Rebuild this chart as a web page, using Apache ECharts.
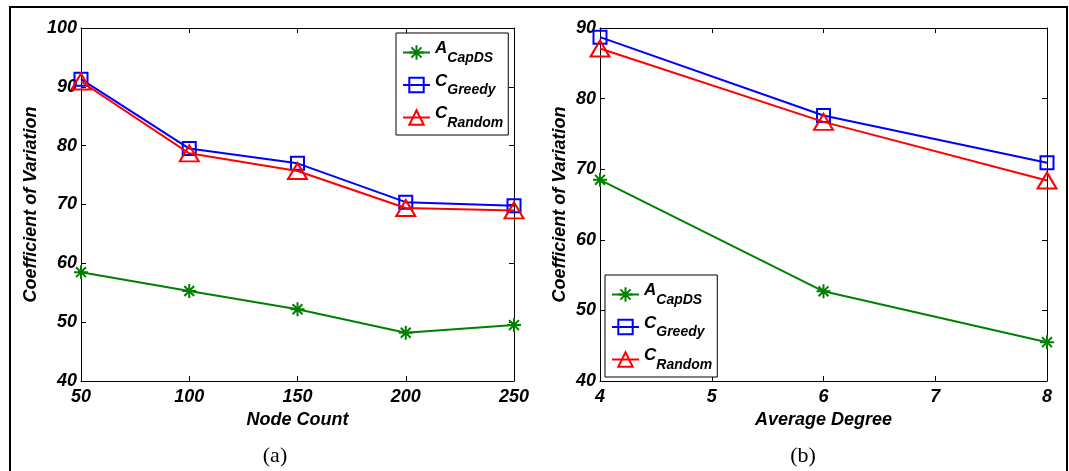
<!DOCTYPE html>
<html>
<head>
<meta charset="utf-8">
<script src="https://cdn.jsdelivr.net/npm/echarts@6/dist/echarts.min.js"></script>
<style>
  html, body { margin: 0; padding: 0; background: #fff; }
  #chart { width: 1069px; height: 471px; }
</style>
</head>
<body>
<div id="chart"></div>
<script>
// Panel (a): coefficient of variation against node count
const nodeCounts = [50, 100, 150, 200, 250];
const nodeCapDS = [58.5, 55.3, 52.2, 48.2, 49.5];
const nodeGreedy = [91.3, 79.5, 77.0, 70.4, 69.8];
const nodeRandom = [90.9, 78.7, 75.7, 69.4, 69.0];

// Panel (b): coefficient of variation against average degree
const degrees = [4, 6, 8];
const degreeCapDS = [68.5, 52.7, 45.5];
const degreeGreedy = [88.7, 77.6, 70.9];
const degreeRandom = [87.1, 76.7, 68.4];

// Axis ranges [min, max, step]
const nodeAxis = [50, 250, 50];
const degreeAxis = [4, 8, 1];
const nodeCvAxis = [40, 100, 10];
const degreeCvAxis = [40, 90, 10];

// Legend entries: main letter with subscript
const seriesMain = ['A', 'C', 'C'];
const seriesSub = ['CapDS', 'Greedy', 'Random'];
const seriesNames = seriesMain.map((m, i) => m + '_' + seriesSub[i]);

const axisTitles = ['Node Count', 'Average Degree', 'Coefficient of Variation'];
const captions = ['(a)', '(b)'];

const FONT = 'Liberation Sans, Arial, Helvetica, sans-serif';
const boldItalic = { fontFamily: FONT, fontWeight: 'bold', fontStyle: 'italic', fontSize: 18, color: '#000' };

const asterisk = 'path://M0,-10L0,10M-10,0L10,0M-7.07,-7.07L7.07,7.07M-7.07,7.07L7.07,-7.07';
const looks = [
  { color: '#008000', symbol: asterisk, size: 14, border: 2 },
  { color: '#0000ff', symbol: 'rect', size: 13, border: 2 },
  { color: '#ff0000', symbol: 'triangle', size: [19, 16], border: 2 }
];

function pairs(xs, ys) { return xs.map((x, i) => [x, ys[i]]); }

function axisPair(gridIndex, range, isX, title, gap) {
  const common = {
    type: 'value', gridIndex: gridIndex,
    min: range[0], max: range[1], interval: range[2],
    axisLine: { show: true, onZero: false, lineStyle: { color: '#000', width: 1 } },
    axisTick: { show: true, inside: true, length: 5, lineStyle: { color: '#000', width: 1 } },
    splitLine: { show: false }
  };
  const main = Object.assign({}, common, {
    position: isX ? 'bottom' : 'left',
    axisLabel: Object.assign({ margin: isX ? 7 : 4, showMinLabel: true, showMaxLabel: true }, boldItalic),
    name: title, nameLocation: 'middle', nameGap: gap,
    nameTextStyle: boldItalic
  });
  const mirror = Object.assign({}, common, {
    position: isX ? 'top' : 'right',
    axisLabel: { show: false }
  });
  return [main, mirror];
}

function makeSeries(gridIndex, xs, ysList) {
  return ysList.map((ys, i) => ({
    name: seriesNames[i], type: 'line',
    xAxisIndex: gridIndex * 2, yAxisIndex: gridIndex * 2,
    data: pairs(xs, ys),
    symbol: looks[i].symbol, symbolSize: looks[i].size,
    showAllSymbol: true,
    lineStyle: { color: looks[i].color, width: 2 },
    itemStyle: { color: 'rgba(0,0,0,0)', borderColor: looks[i].color, borderWidth: looks[i].border },
    emphasis: { disabled: true },
    z: 2 + i
  }));
}

function makeLegend(left, top) {
  return {
    orient: 'vertical', left: left, top: top,
    data: seriesNames,
    itemWidth: 27, itemHeight: 18, itemGap: 7.5,
    padding: [7, 5, 5, 6],
    backgroundColor: '#fff', borderColor: '#000', borderWidth: 1,
    selectedMode: false,
    formatter: name => {
      const i = seriesNames.indexOf(name);
      return '{m|' + seriesMain[i] + '}{s|' + seriesSub[i] + '}';
    },
    textStyle: {
      rich: {
        m: { fontFamily: FONT, fontWeight: 'bold', fontStyle: 'italic', fontSize: 17, lineHeight: 25, verticalAlign: 'top', color: '#000' },
        s: { fontFamily: FONT, fontWeight: 'bold', fontStyle: 'italic', fontSize: 14, lineHeight: 25, verticalAlign: 'bottom', color: '#000' }
      }
    }
  };
}

const [ax0, axTop0] = axisPair(0, nodeAxis, true, axisTitles[0], 27);
const [ay0, ayRight0] = axisPair(0, nodeCvAxis, false, axisTitles[2], 41);
const [ax1, axTop1] = axisPair(1, degreeAxis, true, axisTitles[1], 27);
const [ay1, ayRight1] = axisPair(1, degreeCvAxis, false, axisTitles[2], 31);

const chart = echarts.init(document.getElementById('chart'), null, { renderer: 'canvas' });
chart.setOption({
  animation: false,
  backgroundColor: '#fff',
  grid: [
    { left: 81, top: 28, width: 433, height: 353 },
    { left: 600, top: 28, width: 447, height: 353 }
  ],
  xAxis: [ax0, axTop0, ax1, axTop1],
  yAxis: [ay0, ayRight0, ay1, ayRight1],
  legend: [makeLegend(396, 33), makeLegend(605, 275)],
  series: makeSeries(0, nodeCounts, [nodeCapDS, nodeGreedy, nodeRandom])
    .concat(makeSeries(1, degrees, [degreeCapDS, degreeGreedy, degreeRandom])),
  graphic: [
    { type: 'rect', shape: { x: 10, y: 7, width: 1057, height: 490 },
      style: { fill: 'none', stroke: '#000', lineWidth: 2 }, silent: true },
    { type: 'text', x: 275, y: 456, style: { text: captions[0], font: '22px "Liberation Serif", "Times New Roman", serif', fill: '#000', align: 'center', verticalAlign: 'middle' } },
    { type: 'text', x: 803, y: 456, style: { text: captions[1], font: '22px "Liberation Serif", "Times New Roman", serif', fill: '#000', align: 'center', verticalAlign: 'middle' } }
  ]
});
</script>
</body>
</html>
